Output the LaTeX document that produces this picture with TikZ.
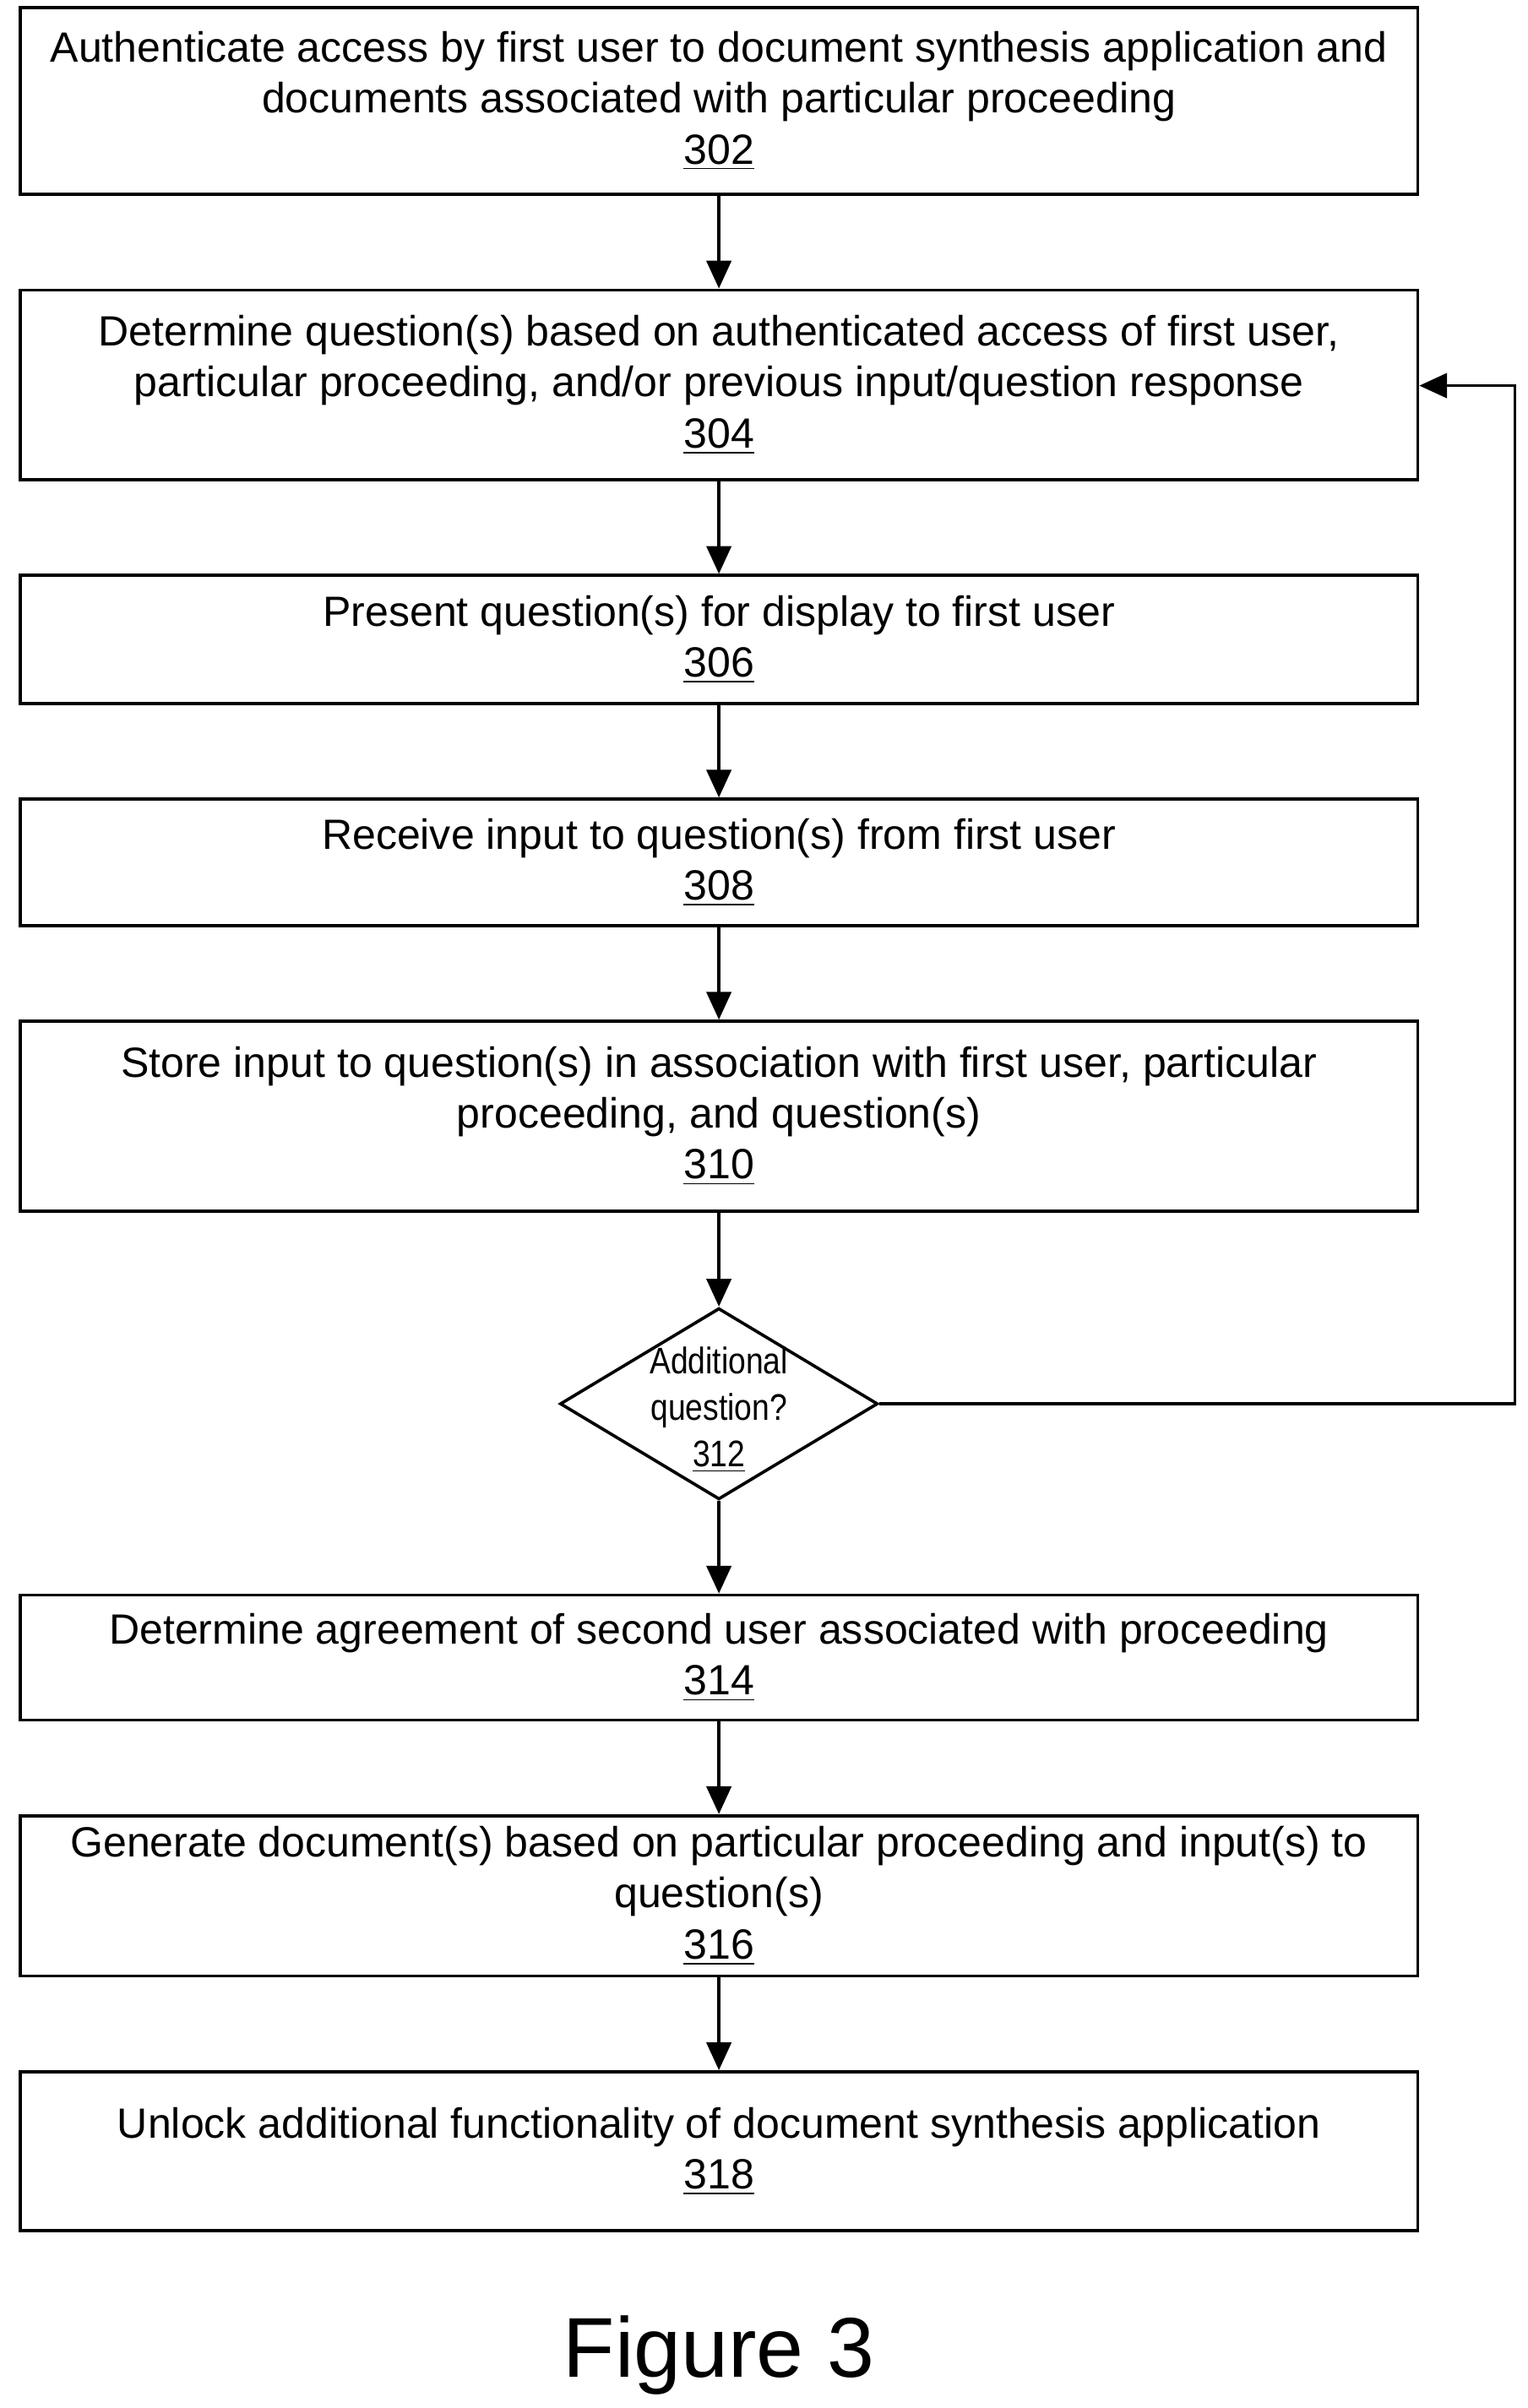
\documentclass[tikz,border=0pt]{standalone}
\usepackage{fontspec}
\setmainfont{Liberation Sans}
\usetikzlibrary{arrows.meta,shapes.geometric}
\begin{document}
\begin{tikzpicture}[x=0.5pt,y=-0.5pt,
 box/.style={draw,line width=1pt,minimum width=453pt,align=center,inner sep=0pt,font=\fontsize{13.7}{16.5}\selectfont},
 arr/.style={line width=1pt,-{Triangle[length=9pt,width=8pt]}}]
\useasboundingbox (0,0) rectangle (990,1561);
\node[box,minimum height=60.5pt] (b302) at (466,65.5) {Authenticate access by first user to document synthesis application and\\documents associated with particular proceeding\\\underline{302}};
\node[box,minimum height=61.5pt] (b304) at (466,249.5) {Determine question(s) based on authenticated access of first user,\\particular proceeding, and/or previous input/question response\\\underline{304}};
\node[box,minimum height=41.5pt] (b306) at (466,414.5) {Present question(s) for display to first user\\\underline{306}};
\node[box,minimum height=41pt] (b308) at (466,559) {Receive input to question(s) from first user\\\underline{308}};
\node[box,minimum height=61.5pt] (b310) at (466,723.5) {Store input to question(s) in association with first user, particular\\proceeding, and question(s)\\\underline{310}};
\node[draw,line width=1pt,diamond,minimum width=103pt,minimum height=62pt,inner sep=0pt] (d312) at (466,910) {};
\node[align=center,inner sep=0pt,font=\fontsize{12}{15}\selectfont] (t312) at (466,914) {\scalebox{0.85}[1]{Additional}\\\scalebox{0.85}[1]{question?}\\\scalebox{0.85}[1]{\underline{312}}};
\node[box,minimum height=40.5pt] (b314) at (466,1074.5) {Determine agreement of second user associated with proceeding\\\underline{314}};
\node[box,minimum height=52pt] (b316) at (466,1229) {Generate document(s) based on particular proceeding and input(s) to\\question(s)\\\underline{316}};
\node[box,minimum height=51.5pt] (b318) at (466,1394.5) {Unlock additional functionality of document synthesis application\\\underline{318}};
\node[font=\fontsize{27.5}{32}\selectfont] (fig) at (466,1527) {Figure 3};
\draw[arr] (b302) -- (b304);
\draw[arr] (b304) -- (b306);
\draw[arr] (b306) -- (b308);
\draw[arr] (b308) -- (b310);
\draw[arr] (b310) -- (d312);
\draw[arr] (d312) -- (b314);
\draw[arr] (b314) -- (b316);
\draw[arr] (b316) -- (b318);
\coordinate (c1) at (982,910);
\coordinate (c2) at (982,250);
\draw[arr] (d312.east) -- (c1) -- (c2) -- (b304.east|-c2);
\end{tikzpicture}
\end{document}
